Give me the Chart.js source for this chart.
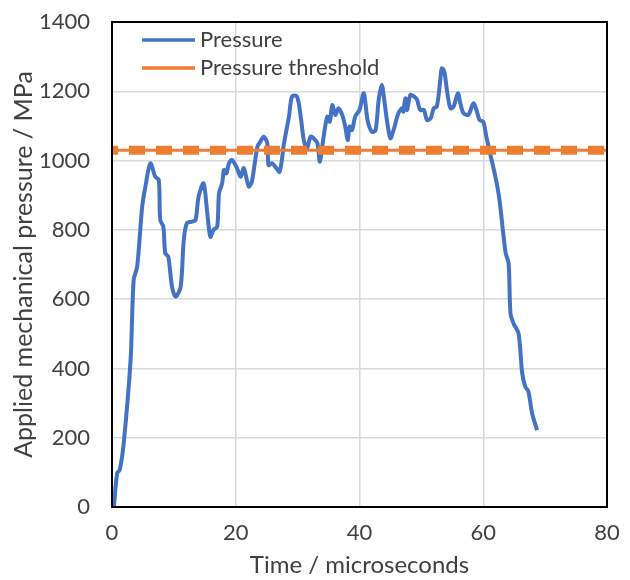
<!DOCTYPE html>
<html>
<head>
<meta charset="utf-8">
<script src="https://cdn.jsdelivr.net/npm/chart.js@4.4.0/dist/chart.umd.min.js"></script>
<style>
    html, body { margin: 0; padding: 0; background: #fff; }
    #wrap { width: 630px; height: 580px; }
</style>
</head>
<body>
<div id="wrap"><canvas id="chart" width="630" height="580"></canvas></div>
<script>
// time in microseconds
const timeUs = [
    0.3, 0.84, 1.26, 1.9, 3.0, 3.5, 4.07, 4.88, 5.4, 6.2, 7.0, 7.56, 7.8, 8.3, 8.6, 9.1, 9.7, 10.3,
    11.1, 11.6, 12.1, 12.96, 13.5, 14.0, 14.8, 15.4, 15.9, 16.4, 17.0, 17.3, 17.8, 18.1, 18.5, 18.9,
    19.4, 20.2, 20.8, 21.3, 22.1, 22.6, 23.5, 24.0, 24.5, 25.1, 25.3, 25.9, 26.4, 27.1, 27.8, 28.6,
    29.1, 29.9, 30.5, 31.0, 31.5, 32.1, 32.6, 33.2, 33.6, 34.2, 34.8, 35.2, 35.6, 36.1, 36.6, 37.2,
    37.7, 38.1, 38.4, 38.8, 39.3, 40.0, 40.7, 41.3, 42.0, 42.6, 43.1, 43.6, 44.0, 44.5, 45.0, 45.5,
    46.3, 46.9, 47.1, 47.4, 47.7, 48.2, 48.8, 49.3, 49.8, 50.4, 50.9, 51.5, 52.0, 52.5, 53.0, 53.3,
    53.7, 54.2, 54.7, 55.2, 55.9, 56.3, 56.8, 57.6, 58.4, 58.9, 59.4, 60.0, 60.5, 61.1, 62.0, 62.6,
    63.6, 64.1, 64.4, 64.9, 65.7, 66.3, 66.8, 67.3, 67.9, 68.7
];
// applied mechanical pressure in MPa
const pressure = [
    0, 98, 107, 185, 424, 655, 694, 867, 925, 992, 953, 944, 828, 809, 733, 722, 636, 607,
    636, 771, 819, 824, 828, 896, 934, 848, 780, 800, 809, 906, 934, 973, 963, 992,
    1002, 978, 953, 978, 925, 939, 1040, 1055, 1069, 1050, 987, 992, 982, 968, 1050, 1127,
    1185, 1185, 1127, 1059, 1035, 1069, 1064, 1050, 997, 1069, 1127, 1112, 1160, 1132, 1151, 1132,
    1098, 1059, 1098, 1088, 1127, 1146, 1194, 1117, 1083, 1088, 1175, 1218, 1175, 1108, 1064, 1088,
    1137, 1151, 1141, 1180, 1146, 1189, 1185, 1175, 1146, 1146, 1117, 1122, 1151, 1156, 1223, 1266,
    1257, 1194, 1151, 1156, 1194, 1165, 1137, 1132, 1165, 1146, 1117, 1112, 1069, 1021, 950, 890,
    735, 703, 559, 530, 501, 386, 347, 333, 270, 222
];
const thresholdTime = [0, 80];
const thresholdValue = [1030, 1030];

const seriesLabels = ["Pressure", "Pressure threshold"];
const seriesColors = ["#4472C4", "#ED7D31"];

const FONT = "Lato, 'Open Sans', sans-serif";
const TEXT = "#404040";

const pressurePoints = timeUs.map((t, i) => ({ x: t, y: pressure[i] }));
const thresholdPoints = thresholdTime.map((t, i) => ({ x: t, y: thresholdValue[i] }));

// black frame round the plot area, like the Excel plot border
const frame = {
    id: "frame",
    afterDatasetsDraw(chart) {
        const { ctx, chartArea: a } = chart;
        ctx.save();
        ctx.strokeStyle = "#000";
        ctx.lineWidth = 2;
        ctx.strokeRect(a.left, a.top, a.right - a.left, a.bottom - a.top);
        ctx.restore();
    },
};

// legend drawn inside the plot area, top-left
const insideLegend = {
    id: "insideLegend",
    afterDraw(chart) {
        const ctx = chart.ctx;
        ctx.save();
        ctx.font = "22px " + FONT;
        ctx.textBaseline = "middle";
        ctx.fillStyle = TEXT;
        seriesLabels.forEach((label, i) => {
            const y = 40 + i * 28;
            ctx.strokeStyle = seriesColors[i];
            ctx.lineWidth = 3.5;
            ctx.beginPath();
            ctx.moveTo(142, y);
            ctx.lineTo(195, y);
            ctx.stroke();
            ctx.fillText(label, 200, y);
        });
        ctx.restore();
    },
};

new Chart(document.getElementById("chart"), {
    type: "line",
    data: {
        datasets: [
            {
                label: seriesLabels[0],
                data: pressurePoints,
                borderColor: seriesColors[0],
                borderWidth: 4,
                pointRadius: 0,
                tension: 0.3,
                order: 1,
            },
            {
                label: seriesLabels[1],
                data: thresholdPoints,
                borderColor: seriesColors[1],
                borderWidth: 9,
                borderDash: [16, 11],
                borderDashOffset: 10,
                pointRadius: 0,
                order: 0,
            },
            {
                label: "",
                data: thresholdPoints,
                borderColor: seriesColors[1],
                borderWidth: 3,
                pointRadius: 0,
                order: 0,
            },
        ],
    },
    options: {
        responsive: false,
        animation: false,
        layout: { padding: { top: 22, right: 23, left: 0, bottom: 0 } },
        plugins: {
            legend: { display: false },
            tooltip: { enabled: false },
        },
        scales: {
            x: {
                type: "linear",
                min: 0,
                max: 80,
                afterFit: (s) => { s.height = 73; s.paddingLeft = 0; s.paddingRight = 0; },
                ticks: {
                    stepSize: 20, color: TEXT, font: { family: FONT, size: 22 }, padding: 13, maxRotation: 0,
                    callback: (v) => String(v),
                },
                grid: { color: "#d9d9d9", lineWidth: 1.5, drawTicks: false },
                border: { display: false },
                title: {
                    display: true,
                    text: "Time / microseconds",
                    color: TEXT,
                    font: { family: FONT, size: 24 },
                    padding: { top: 0, bottom: 0 },
                },
            },
            y: {
                min: 0,
                max: 1400,
                afterFit: (s) => { s.width = 112; s.paddingTop = 0; s.paddingBottom = 0; },
                ticks: {
                    stepSize: 200, color: TEXT, font: { family: FONT, size: 22 }, padding: 22,
                    callback: (v) => String(v),
                },
                grid: { color: "#d9d9d9", lineWidth: 1.5, drawTicks: false },
                border: { display: false },
                title: {
                    display: true,
                    text: "Applied mechanical pressure / MPa",
                    color: TEXT,
                    font: { family: FONT, size: 25 },
                    padding: { top: 9, bottom: 0 },
                },
            },
        },
    },
    plugins: [frame, insideLegend],
});
</script>
</body>
</html>
